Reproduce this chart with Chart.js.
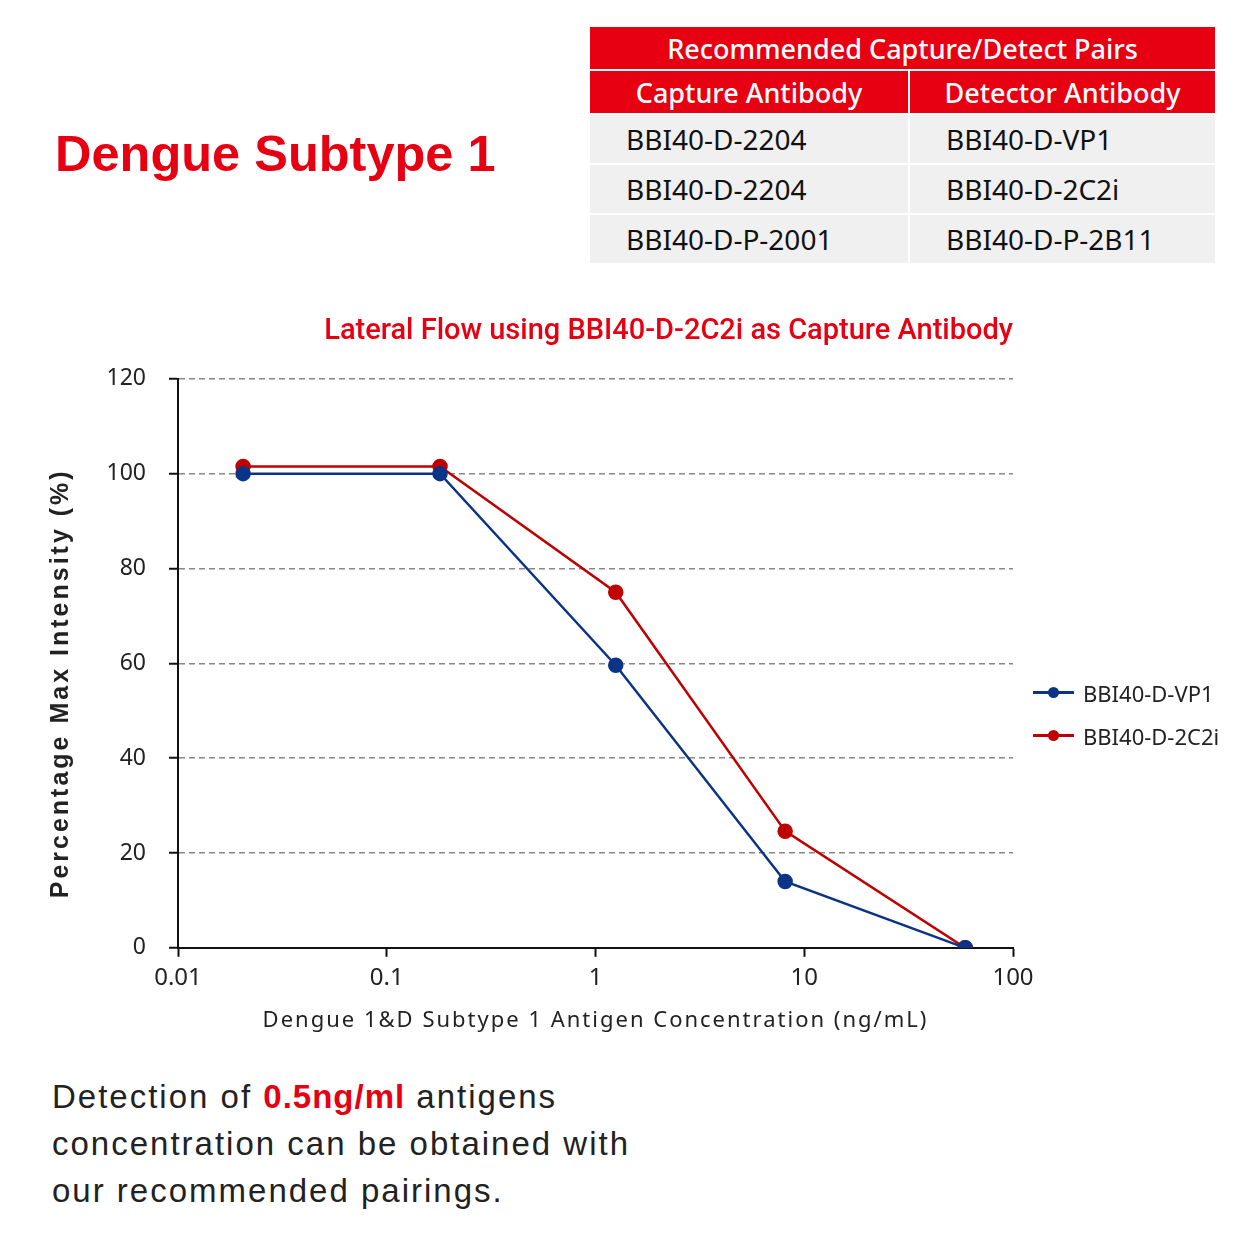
<!DOCTYPE html>
<html>
<head>
<meta charset="utf-8">
<script src="https://cdn.jsdelivr.net/npm/chart.js@4.4.1/dist/chart.umd.min.js"></script>
<style>
  html, body { margin: 0; padding: 0; background: #fff; }
  body { width: 1254px; height: 1254px; position: relative; overflow: hidden; font-family: "Noto Sans", sans-serif; }
  #title { position: absolute; left: 55px; top: 124px; font: bold 50.5px "Liberation Sans", Arial, sans-serif; color: #e60012; }
  #pairs { position: absolute; left: 590px; top: 27px; width: 625px; border-collapse: collapse; table-layout: fixed; font-family: "Noto Sans", sans-serif; }
  #pairs th { background: #e60012; color: #fff; font-weight: 500; font-size: 27px; height: 42px; padding: 0; border: 2px solid #fff; }
  #pairs td { background: #f0f0f0; color: #111; font-size: 28px; height: 48px; padding: 0 0 0 36px; border: 2px solid #fff; }
  #pairs tr > :first-child { border-left: none; }
  #pairs tr > :last-child { border-right: none; }
  #pairs tr:first-child th { border-top: none; }
  #chartBox { position: absolute; left: 0; top: 300px; width: 1254px; height: 750px; }
  #legend { position: absolute; left: 1033px; top: 671px; font: 22px "Noto Sans", sans-serif; color: #222; }
  #legend .item { height: 43px; display: flex; align-items: center; }
  #legend .sw { position: relative; width: 41px; height: 3px; margin-right: 9px; }
  #legend .sw span { position: absolute; left: 15px; top: -4px; width: 11px; height: 11px; border-radius: 50%; }
  #note { position: absolute; left: 52px; top: 1073px; font: 33px/47px "Liberation Sans", Arial, sans-serif; letter-spacing: 2px; color: #222; }
  #note b { color: #e60012; letter-spacing: 1px; }
</style>
</head>
<body>
<div id="title">Dengue Subtype 1</div>
<table id="pairs">
  <colgroup><col style="width:319px"><col></colgroup>
  <tr><th colspan="2">Recommended Capture/Detect Pairs</th></tr>
  <tr><th>Capture Antibody</th><th>Detector Antibody</th></tr>
  <tr><td>BBI40-D-2204</td><td>BBI40-D-VP1</td></tr>
  <tr><td>BBI40-D-2204</td><td>BBI40-D-2C2i</td></tr>
  <tr><td>BBI40-D-P-2001</td><td>BBI40-D-P-2B11</td></tr>
</table>
<div id="chartBox"><canvas id="c"></canvas></div>
<div id="legend"></div>
<div id="note">Detection of <b>0.5ng/ml</b> antigens<br>concentration can be obtained with<br>our recommended pairings.</div>
<script>
// antigen concentration, ng/mL
var concentration = [0.0205, 0.18, 1.25, 8.1, 59];
var seriesNames = ['BBI40-D-VP1', 'BBI40-D-2C2i'];
var vp1 = [100, 100, 59.6, 14, 0];
var c2i = [101.5, 101.5, 75, 24.6, 0];
var seriesColors = ['#0b3486', '#c00000'];
var xTicks = [0.01, 0.1, 1, 10, 100];
var yTicks = [0, 20, 40, 60, 80, 100, 120];

// axis titles in the original are letter-spaced, the y one sits a bit low
var titleSpacing = { x: '2px', y: '3px' };
var titleShift = { x: 0, y: 20 };
var origDrawTitle = Chart.Scale.prototype.drawTitle;
Chart.Scale.prototype.drawTitle = function () {
  var ctx = this.ctx;
  ctx.save();
  ctx.letterSpacing = titleSpacing[this.id] || '0px';
  ctx.translate(0, titleShift[this.id] || 0);
  origDrawTitle.apply(this, arguments);
  ctx.restore();
};

function pts(vals) {
  return concentration.map(function (x, i) { return { x: x, y: vals[i] }; });
}

var datasets = [vp1, c2i].map(function (vals, i) {
  return {
    label: seriesNames[i],
    data: pts(vals),
    borderColor: seriesColors[i],
    backgroundColor: seriesColors[i],
    borderWidth: 2.5,
    pointRadius: 6.5,
    pointHoverRadius: 6.5,
    tension: 0
  };
});

var chart = new Chart(document.getElementById('c'), {
  type: 'line',
  data: { datasets: datasets },
  options: {
    responsive: true,
    maintainAspectRatio: false,
    animation: false,
    events: [],
    layout: { padding: { left: 46, right: 241, top: 13, bottom: 16 } },
    plugins: {
      legend: { display: false },
      tooltip: { enabled: false },
      title: {
        display: true,
        text: 'Lateral Flow using BBI40-D-2C2i as Capture Antibody',
        align: 'end',
        color: '#e60012',
        font: { family: 'Roboto, "Liberation Sans", sans-serif', size: 29, weight: '500' },
        padding: { top: 1, bottom: 30 }
      }
    },
    scales: {
      x: {
        type: 'logarithmic',
        min: 0.01,
        max: 100,
        afterBuildTicks: function (scale) {
          scale.ticks = xTicks.map(function (v) { return { value: v }; });
        },
        ticks: {
          autoSkip: false,
          maxRotation: 0,
          color: '#222',
          font: { family: '"Noto Sans", sans-serif', size: 24 },
          padding: 7,
          callback: function (v) { return String(v); }
        },
        grid: { display: true, drawOnChartArea: false, drawTicks: true, tickLength: 9, tickColor: '#111', tickWidth: 2 },
        border: { display: true, color: '#111', width: 2 },
        title: {
          display: true,
          text: 'Dengue 1&D Subtype 1 Antigen Concentration (ng/mL)',
          color: '#222',
          font: { family: '"Noto Sans", sans-serif', size: 22 },
          padding: { top: 8, bottom: 0 }
        }
      },
      y: {
        min: 0,
        max: 120,
        afterBuildTicks: function (scale) {
          scale.ticks = yTicks.map(function (v) { return { value: v }; });
        },
        afterFit: function (scale) { scale.width = 132; },
        ticks: {
          color: '#222',
          font: { family: '"Noto Sans", sans-serif', size: 23 },
          padding: 23
        },
        grid: {
          color: '#888',
          lineWidth: 1.5,
          drawTicks: true,
          tickLength: 9,
          tickColor: '#111',
          tickWidth: 2,
          tickBorderDash: []
        },
        border: { display: true, color: '#111', width: 2, dash: [6, 4] },
        title: {
          display: true,
          text: 'Percentage Max Intensity (%)',
          color: '#222',
          font: { family: '"Liberation Sans", Arial, sans-serif', size: 25, weight: 'bold' },
          padding: { top: 0, bottom: 0 }
        }
      }
    }
  }
});

// legend built from the chart's own datasets
var lg = document.getElementById('legend');
chart.data.datasets.forEach(function (ds) {
  var item = document.createElement('div');
  item.className = 'item';
  item.innerHTML = '<div class="sw" style="background:' + ds.borderColor + '"><span style="background:' + ds.borderColor + '"></span></div>' + ds.label;
  lg.appendChild(item);
});
</script>
</body>
</html>
